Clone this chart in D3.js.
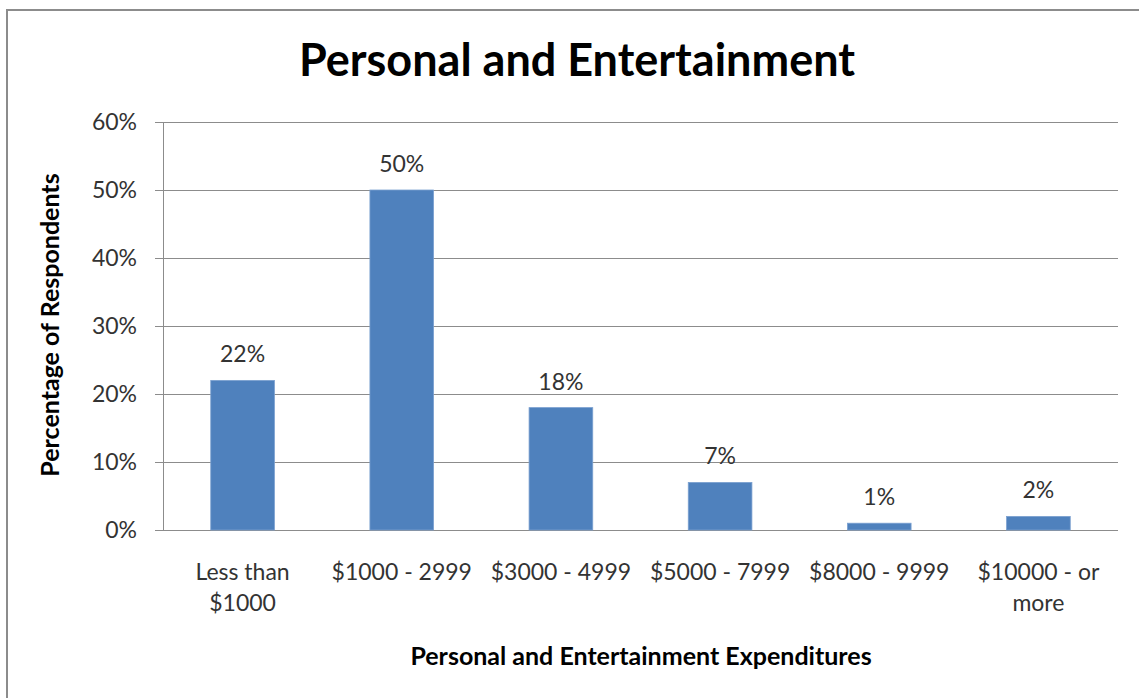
<!DOCTYPE html>
<html>
<head>
<meta charset="utf-8">
<script src="https://cdn.jsdelivr.net/npm/d3@7"></script>
<style>
  html, body { margin: 0; padding: 0; background: #fff; }
  svg { display: block; }
  text { font-family: Lato, "Open Sans", sans-serif; }
</style>
</head>
<body>
<svg id="chart" width="1139" height="698"></svg>
<script>
// ── data ─────────────────────────────────────────────
const categories = [
  ['Less than', '$1000'],
  ['$1000 - 2999'],
  ['$3000 - 4999'],
  ['$5000 - 7999'],
  ['$8000 - 9999'],
  ['$10000 - or', 'more']
];
const values = [22, 50, 18, 7, 1, 2];
const yTicks = [0, 10, 20, 30, 40, 50, 60];

const W = 1139, H = 698;
const plot = { left: 163, right: 1118, top: 122, bottom: 530 };

const svg = d3.select('#chart');

// outer frame (runs off the right / bottom edge like the source)
svg.append('rect')
  .attr('x', 7).attr('y', 10)
  .attr('width', W + 10).attr('height', H + 10)
  .attr('fill', '#fff').attr('stroke', '#8c8c8c').attr('stroke-width', 2);

const x = d3.scaleBand()
  .domain(d3.range(categories.length))
  .range([plot.left, plot.right])
  .paddingInner(0.6).paddingOuter(0.3);

const y = d3.scaleLinear().domain([0, 60]).range([plot.bottom, plot.top]);

// gridlines
svg.append('g').selectAll('line').data(yTicks).enter().append('line')
  .attr('x1', plot.left - 8).attr('x2', plot.right)
  .attr('y1', d => y(d) + 0.5).attr('y2', d => y(d) + 0.5)
  .attr('stroke', '#8c8c8c').attr('stroke-width', 1);

// y axis line
svg.append('line')
  .attr('x1', plot.left + 0.5).attr('x2', plot.left + 0.5)
  .attr('y1', plot.top).attr('y2', plot.bottom)
  .attr('stroke', '#8c8c8c');

// y tick labels
svg.append('g').selectAll('text').data(yTicks).enter().append('text')
  .attr('x', plot.left - 26).attr('y', d => y(d))
  .attr('dy', '0.36em').attr('text-anchor', 'end')
  .attr('font-size', 23).attr('fill', '#333')
  .text(d => d + '%');

// bars
svg.append('g').selectAll('rect').data(values).enter().append('rect')
  .attr('x', (d, i) => x(i)).attr('width', x.bandwidth())
  .attr('y', d => y(d)).attr('height', d => y(0) - y(d))
  .attr('fill', '#4f81bd').attr('stroke', '#7ba0d0').attr('stroke-width', 0.8);

// data labels
svg.append('g').selectAll('text').data(values).enter().append('text')
  .attr('x', (d, i) => x(i) + x.bandwidth() / 2)
  .attr('y', d => y(d) - 18)
  .attr('text-anchor', 'middle')
  .attr('font-size', 23).attr('fill', '#333')
  .text(d => d + '%');

// category labels
const catG = svg.append('g').selectAll('text').data(categories).enter().append('text')
  .attr('text-anchor', 'middle')
  .attr('font-size', 23).attr('fill', '#333');
catG.selectAll('tspan').data((d, i) => d.map(t => ({ t, i }))).enter().append('tspan')
  .attr('x', d => x(d.i) + x.bandwidth() / 2)
  .attr('y', (d, j) => 580 + j * 31)
  .text(d => d.t);

// titles
svg.append('text')
  .attr('x', 577).attr('y', 76).attr('text-anchor', 'middle')
  .attr('font-size', 45).attr('font-weight', 'bold').attr('fill', '#000')
  .text('Personal and Entertainment');

svg.append('text')
  .attr('transform', 'translate(59,325) rotate(-90)')
  .attr('text-anchor', 'middle')
  .attr('font-size', 25).attr('font-weight', 'bold').attr('fill', '#000')
  .text('Percentage of Respondents');

svg.append('text')
  .attr('x', 641).attr('y', 665).attr('text-anchor', 'middle')
  .attr('font-size', 25).attr('font-weight', 'bold').attr('fill', '#000')
  .text('Personal and Entertainment Expenditures');
</script>
</body>
</html>
